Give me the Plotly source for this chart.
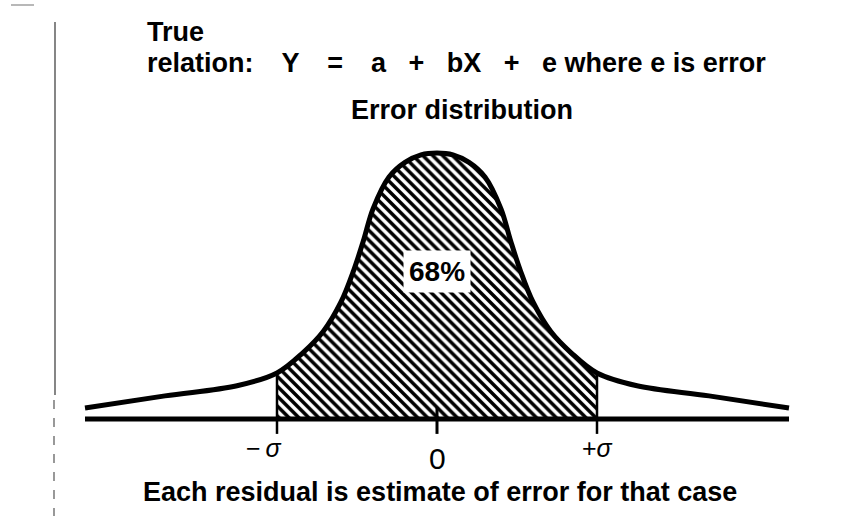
import plotly.graph_objects as go

# Error distribution drawn in units of sigma; density relative to the peak
err_x = [-2.2, -1.7, -1.25, -1.0, -0.84, -0.71, -0.6, -0.52, -0.46, -0.4, -0.3, -0.2, -0.1,
         0.0, 0.1, 0.2, 0.3, 0.4, 0.46, 0.52, 0.6, 0.71, 0.84, 1.0, 1.25, 1.7, 2.2]
density = [0.041, 0.087, 0.125, 0.173, 0.248, 0.33, 0.44, 0.56, 0.67, 0.79, 0.91, 0.965, 0.993,
           1.0, 0.993, 0.965, 0.91, 0.79, 0.67, 0.56, 0.44, 0.33, 0.248, 0.173, 0.125, 0.087, 0.041]

tick_vals = [-1, 0, 1]
tick_text = ["\u2212\u2009<i>\u03c3</i>", "0", "+<i>\u03c3</i>"]
shaded_label = "68%"

SP = "\u00a0\u00a0\u00a0"
SPW = "\u00a0\u00a0\u00a0\u2009"
title_line1 = "True"
title_line2 = ("relation:" + SPW + "Y" + SPW + "=" + SPW + "a" + SP + "+" + SP + "bX" + SP + "+" + SP
               + "e where e is error")
subtitle = "Error distribution"
footer = "Each residual is estimate of error for that case"

W, H = 866, 516
FONT = "Liberation Sans, Arial, sans-serif"

# the one-sigma band under the curve
band_x = [x for x in err_x if -1 <= x <= 1]
band_y = [d for x, d in zip(err_x, density) if -1 <= x <= 1]

fig = go.Figure()

fig.add_trace(go.Scatter(
    x=band_x, y=band_y, mode="lines", line=dict(width=0, shape="spline", color="black"),
    fill="tozeroy", fillcolor="white",
    fillpattern=dict(shape="\\", size=7, solidity=0.5, fgcolor="black", fgopacity=1,
                     bgcolor="white"),
    hoverinfo="skip", showlegend=False))

# baseline
fig.add_trace(go.Scatter(
    x=[err_x[0], err_x[-1]], y=[0, 0], mode="lines",
    line=dict(color="black", width=5), hoverinfo="skip", showlegend=False))

# tick at zero and the sigma verticals
tick_lo = -0.056
for v in tick_vals:
    top = 0.045 if v == 0 else band_y[0] if v < 0 else band_y[-1]
    fig.add_trace(go.Scatter(
        x=[v, v], y=[tick_lo, top], mode="lines",
        line=dict(color="black", width=3 if v == 0 else 2.5),
        hoverinfo="skip", showlegend=False))

# the distribution curve
fig.add_trace(go.Scatter(
    x=err_x, y=density, mode="lines",
    line=dict(color="black", width=5, shape="spline"),
    hoverinfo="skip", showlegend=False))

annotations = []
for v, t in zip(tick_vals, tick_text):
    big = (v == 0)
    annotations.append(dict(
        x=v + (-0.08 if v < 0 else 0.0), y=-0.15 if big else -0.11,
        xref="x", yref="y", text=t, showarrow=False,
        font=dict(family=FONT, size=30 if big else 25, color="black")))

annotations.append(dict(
    x=0, y=0.555, xref="x", yref="y", text="<b>%s</b>" % shaded_label, showarrow=False,
    bgcolor="white", borderpad=5,
    font=dict(family=FONT, size=28, color="black")))

def txt(text, px, py, size, anchor="left"):
    return dict(x=px / W, y=1 - py / H, xref="paper", yref="paper", text="<b>%s</b>" % text,
                showarrow=False, xanchor=anchor, yanchor="middle",
                font=dict(family=FONT, size=size, color="black"))

annotations.append(txt(title_line1, 145, 32, 27))
annotations.append(txt(title_line2, 145, 63, 27))
annotations.append(txt(subtitle, 462, 110, 27, "center"))
annotations.append(txt(footer, 440, 492, 27, "center"))

# faint edge marks along the left margin
shapes = [
    dict(type="line", xref="paper", yref="paper", x0=55 / W, x1=55 / W,
         y0=1 - 22 / H, y1=1 - 395 / H, line=dict(color="#444444", width=1.3)),
    dict(type="line", xref="paper", yref="paper", x0=54 / W, x1=54 / W,
         y0=1 - 400 / H, y1=0, line=dict(color="#555555", width=1.2, dash="dash")),
    dict(type="line", xref="paper", yref="paper", x0=11 / W, x1=34 / W,
         y0=1 - 5 / H, y1=1 - 5 / H, line=dict(color="#888888", width=1.2)),
]

px0, py0, sx, sy = 437, 419, 160, 266
fig.update_layout(
    width=W, height=H, margin=dict(l=0, r=0, t=0, b=0),
    paper_bgcolor="white", plot_bgcolor="white",
    xaxis=dict(range=[-px0 / sx, (W - px0) / sx], visible=False, fixedrange=True),
    yaxis=dict(range=[(py0 - H) / sy, py0 / sy], visible=False, fixedrange=True),
    annotations=annotations, shapes=shapes, showlegend=False,
)

fig.write_html("out.html")
